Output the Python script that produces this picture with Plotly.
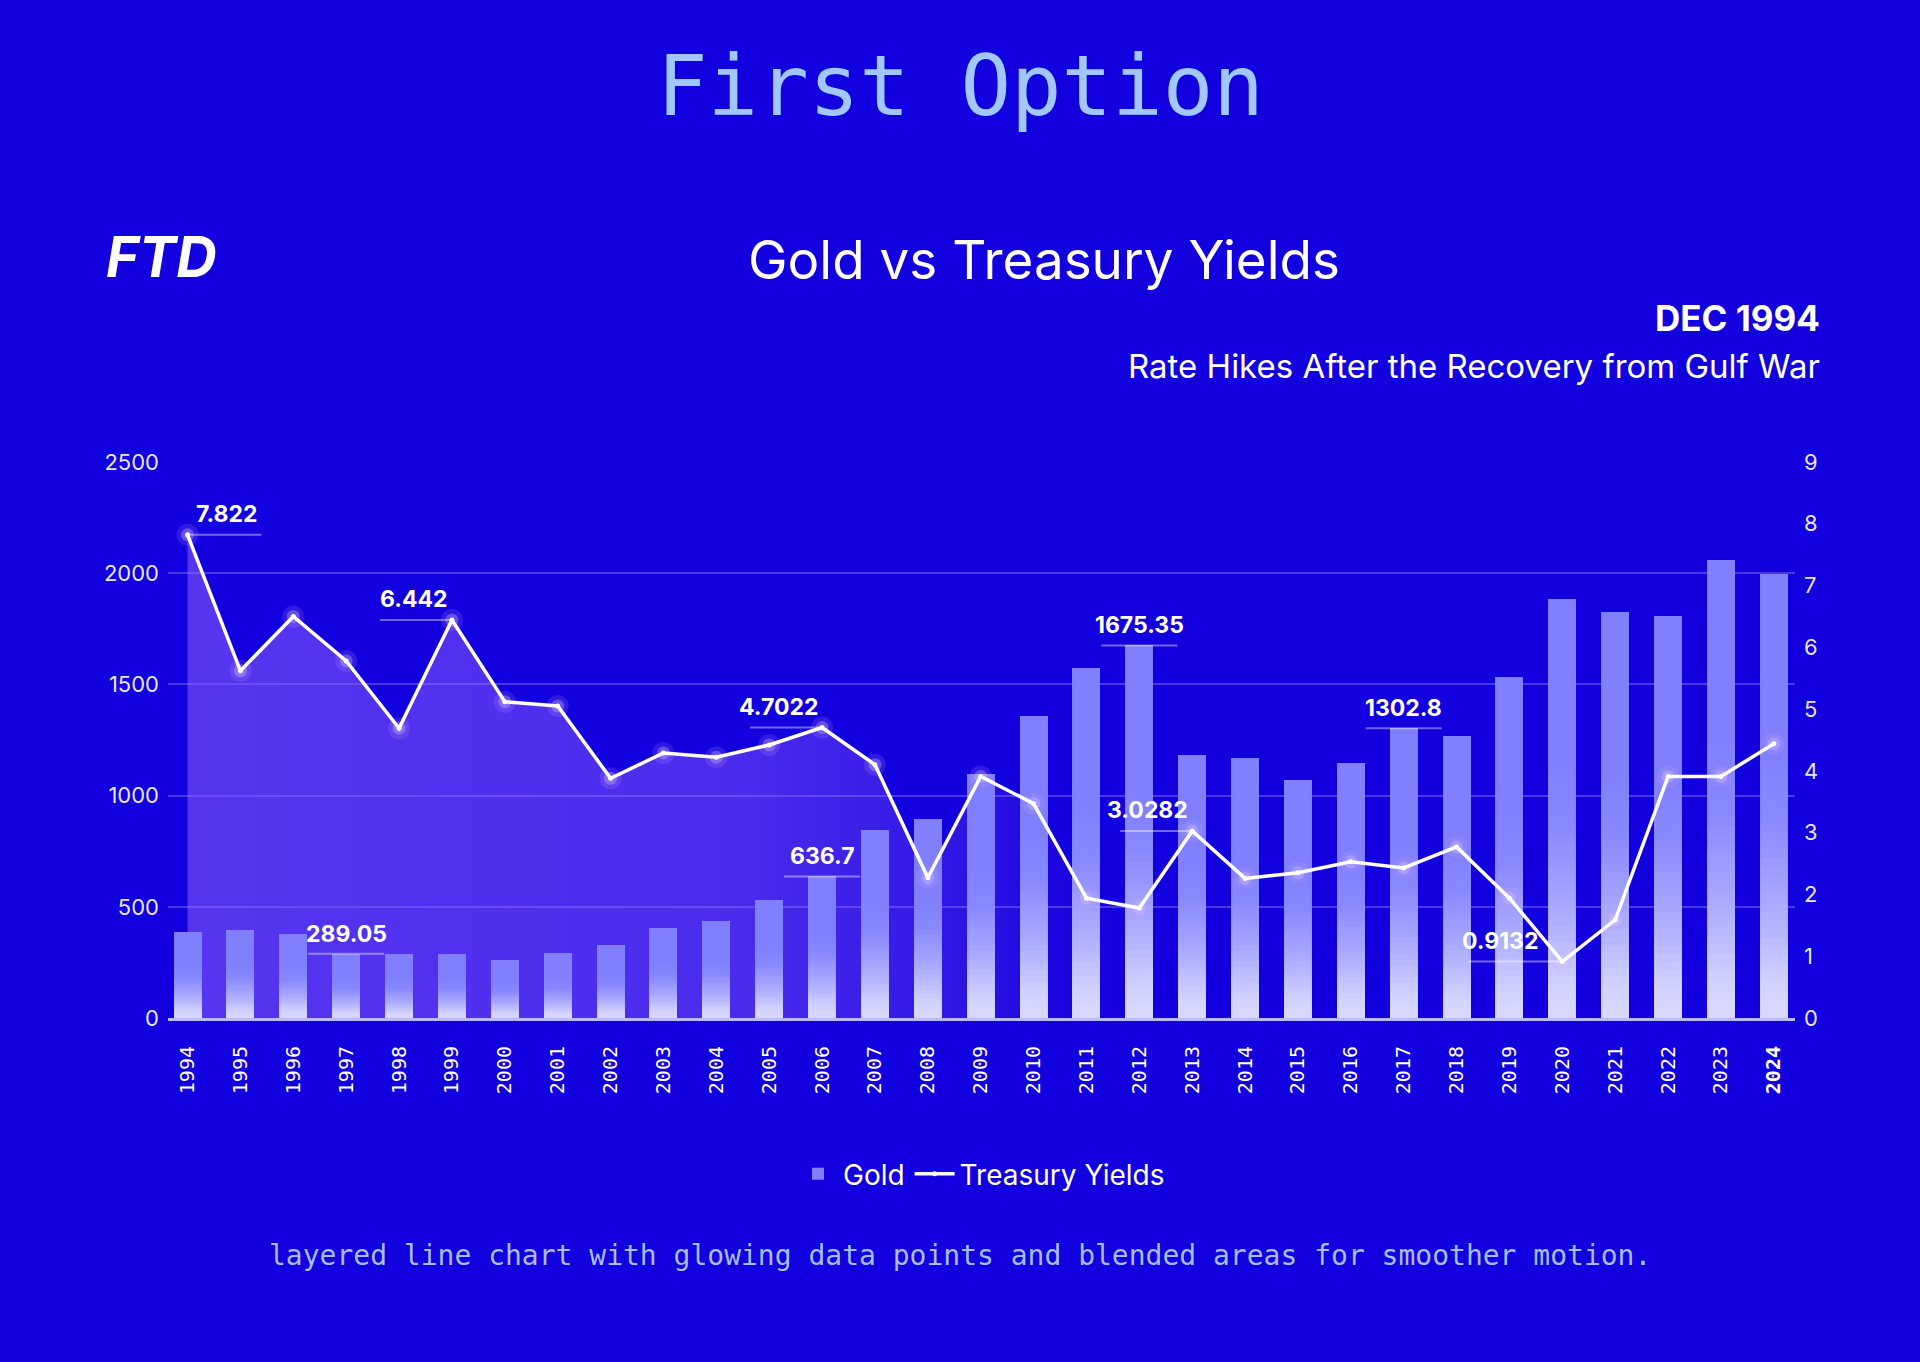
import plotly.graph_objects as go

# ---------------- data ----------------
years = list(range(1994, 2025))
gold = [385, 394, 379, 289.05, 290, 288, 262, 291, 329, 404, 436, 530, 636.7,
        847, 896, 1096, 1360, 1573, 1675.35, 1184, 1168, 1069, 1146, 1302.8,
        1266, 1535, 1884, 1824, 1809, 2058, 1996]
yields = [7.822, 5.62, 6.50, 5.78, 4.69, 6.442, 5.12, 5.05, 3.88, 4.29, 4.22,
          4.42, 4.7022, 4.10, 2.27, 3.91, 3.47, 1.94, 1.78, 3.0282, 2.26, 2.35,
          2.53, 2.43, 2.77, 1.94, 0.9132, 1.59, 3.91, 3.91, 4.44]
tick_text = [str(y) for y in years[:-1]] + ["<b>%d</b>" % years[-1]]
gold_label_years = [1997, 2006, 2012, 2017]
yield_label_years = [1994, 1999, 2006, 2013, 2020]

# ---------------- styling ----------------
BG = "rgb(19,0,222)"
SANS = "Inter, 'Open Sans', sans-serif"
MONO = "'DejaVu Sans Mono', 'Liberation Mono', monospace"
BAR_W = 0.53

fig = go.Figure()

# area fill under yields (main axis y -> drawn behind bars)
fig.add_trace(go.Scatter(
    x=years, y=yields, yaxis="y", mode="none", fill="tozeroy",
    fillgradient=dict(type="horizontal", colorscale=[
        [0.0, "rgba(140,95,255,0.56)"],
        [0.35, "rgba(140,95,255,0.46)"],
        [0.46, "rgba(140,95,255,0.28)"],
        [0.55, "rgba(140,95,255,0.07)"],
        [0.6, "rgba(140,95,255,0.0)"],
        [1.0, "rgba(140,95,255,0.0)"]]),
    showlegend=False, hoverinfo="skip"))

# gold bars (y2)
fig.add_trace(go.Bar(
    x=years, y=gold, yaxis="y2", name="Gold", width=BAR_W,
    marker=dict(color="rgb(128,128,255)", line=dict(width=0))))


# smooth vertical gradient: whiteness target per fraction of bar height
def whiteness(f):
    pts = [(0.0, 0.74), (0.07, 0.69), (0.21, 0.45), (0.45, 0.10), (0.6, 0.0)]
    for (f0, w0), (f1, w1) in zip(pts[:-1], pts[1:]):
        if f0 <= f <= f1:
            return w0 + (w1 - w0) * (f - f0) / (f1 - f0)
    return 0.0


N = 30
fracs = [0.6 * (N - k) / N for k in range(N)]  # from top fraction downward
prev_keep = 1.0
for frac in fracs:
    f_below = frac - 0.6 / N
    keep = 1.0 - whiteness(max(f_below, 0.0) + 1e-9)
    alpha = max(0.0, 1.0 - keep / prev_keep)
    prev_keep = keep
    fig.add_trace(go.Bar(
        x=years, y=[g * frac for g in gold], yaxis="y2", width=BAR_W,
        marker=dict(color="rgba(255,255,255,%.4f)" % alpha, line=dict(width=0)),
        showlegend=False, hoverinfo="skip"))

# glow around yield points (y3)
fig.add_trace(go.Scatter(
    x=years, y=yields, yaxis="y3", mode="markers",
    marker=dict(size=22, color="rgba(200,160,255,0.16)", line=dict(width=0)),
    showlegend=False, hoverinfo="skip"))
fig.add_trace(go.Scatter(
    x=years, y=yields, yaxis="y3", mode="markers",
    marker=dict(size=13, color="rgba(225,200,255,0.32)", line=dict(width=0)),
    showlegend=False, hoverinfo="skip"))

# yield line
fig.add_trace(go.Scatter(
    x=years, y=yields, yaxis="y3", name="Treasury Yields",
    mode="lines+markers",
    line=dict(color="white", width=3.5),
    marker=dict(size=5, color="white")))

# ---------------- labels ----------------
annotations = []
shapes = []
for yr in gold_label_years:
    v = gold[years.index(yr)]
    annotations.append(dict(
        x=yr, y=v, xref="x", yref="y2", text="<b>%g</b>" % v,
        showarrow=False, xanchor="center", yanchor="bottom", yshift=4,
        font=dict(family=SANS, size=23, color="white")))
    shapes.append(dict(
        type="line", xref="x", yref="y2", xsizemode="pixel", xanchor=yr,
        x0=-38, x1=38, y0=v, y1=v,
        line=dict(color="rgba(255,255,255,0.40)", width=2)))

for yr in yield_label_years:
    v = yields[years.index(yr)]
    first = yr == years[0]
    shift = 6 if first else (-22 if v < 1.5 else -2)
    annotations.append(dict(
        x=yr, y=v, xref="x", yref="y3", text="<b>%g</b>" % v,
        showarrow=False, xanchor="left" if first else "right",
        yanchor="bottom", yshift=5, xshift=shift,
        font=dict(family=SANS, size=23, color="white")))
    if first:
        x0, x1 = 0, 74
    else:
        x0, x1 = (-94, 0) if v < 1.5 else (-72, 0)
    shapes.append(dict(
        type="line", xref="x", yref="y3", xsizemode="pixel", xanchor=yr,
        x0=x0, x1=x1, y0=v, y1=v,
        line=dict(color="rgba(255,255,255,0.40)", width=2)))

# titles / texts (paper coords)
annotations += [
    dict(text="First Option", xref="paper", yref="paper", x=0.4868, y=1.676,
         xanchor="center", yanchor="middle", showarrow=False,
         font=dict(family=MONO, size=84, color="rgb(160,200,255)")),
    dict(text="Gold vs Treasury Yields", xref="paper", yref="paper", x=0.5387,
         y=1.364, xanchor="center", yanchor="middle", showarrow=False,
         font=dict(family=SANS, size=53, color="white")),
    dict(text="<b><i>FTD</i></b>", xref="paper", yref="paper", x=-0.0043,
         y=1.368, xanchor="center", yanchor="middle", showarrow=False,
         font=dict(family=SANS, size=56, color="white")),
    dict(text="<b>DEC 1994</b>", xref="paper", yref="paper", x=1.0166,
         y=1.259, xanchor="right", yanchor="middle", showarrow=False,
         font=dict(family=SANS, size=35, color="white")),
    dict(text="Rate Hikes After the Recovery from Gulf War", xref="paper",
         yref="paper", x=1.0166, y=1.1727, xanchor="right", yanchor="middle",
         showarrow=False, font=dict(family=SANS, size=33, color="white")),
    dict(text="layered line chart with glowing data points and blended areas for smoother motion.",
         xref="paper", yref="paper", x=0.4868, y=-0.428, xanchor="center",
         yanchor="middle", showarrow=False,
         font=dict(family=MONO, size=28, color="rgb(165,190,255)")),
]

fig.update_layout(
    width=1920, height=1362,
    paper_bgcolor=BG, plot_bgcolor="rgba(0,0,0,0)",
    margin=dict(l=168, r=125, t=462, b=344, autoexpand=False),
    barmode="overlay", bargap=0,
    font=dict(family=SANS, color="white"),
    xaxis=dict(
        range=[1993.63, 2024.4], tickmode="array", tickvals=years,
        ticktext=tick_text, tickangle=-90, ticklabelstandoff=17,
        tickfont=dict(family=MONO, size=20, color="white"),
        showgrid=False, zeroline=False, ticks="",
        showline=True, linecolor="rgba(195,195,255,0.95)", linewidth=3),
    yaxis=dict(
        range=[0, 9], dtick=1, side="right", showgrid=False, zeroline=False,
        tickfont=dict(family=SANS, size=22, color="rgba(255,255,255,0.92)"),
        ticklabelstandoff=8),
    yaxis2=dict(
        range=[0, 2500], dtick=500, side="left", overlaying="y",
        showgrid=True, gridcolor="rgba(255,255,255,0.22)", gridwidth=1.5,
        zeroline=False,
        tickfont=dict(family=SANS, size=22, color="rgba(255,255,255,0.92)"),
        ticklabelstandoff=8),
    yaxis3=dict(range=[0, 9], overlaying="y", visible=False),
    legend=dict(
        orientation="h", x=0.5, xanchor="center", y=-0.2806,
        yanchor="middle", bgcolor="rgba(0,0,0,0)",
        font=dict(family=SANS, size=28, color="white"),
        itemwidth=40, traceorder="normal"),
    annotations=annotations,
    shapes=shapes,
    showlegend=True,
)

fig.write_html(
    "out.html",
    config={"displayModeBar": False},
    post_script="document.body.style.margin='0';"
                "document.body.style.background='rgb(19,0,222)';")
